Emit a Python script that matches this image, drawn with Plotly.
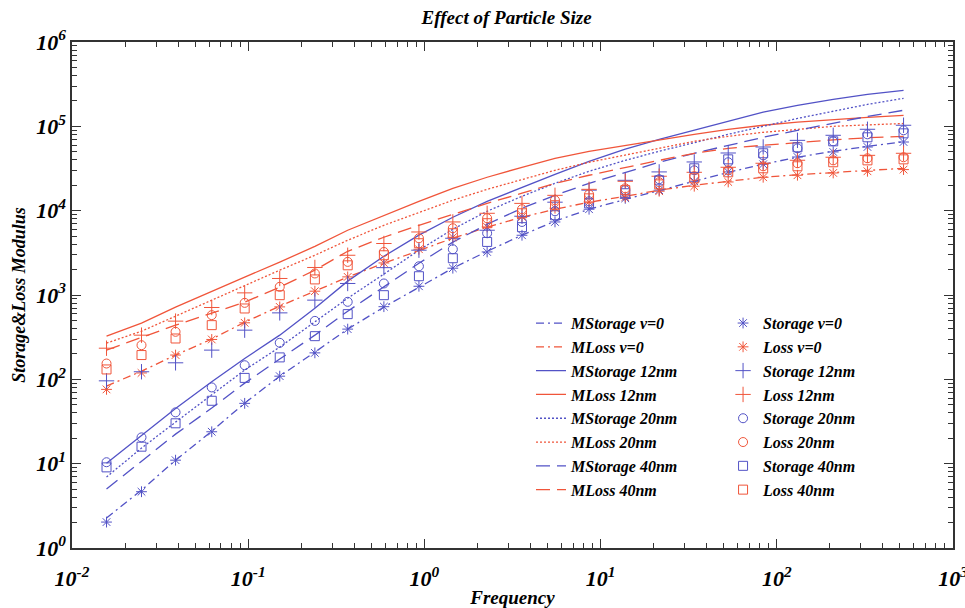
import plotly.graph_objects as go

# ---------------- data ----------------
freq = [0.0157, 0.0248, 0.0387, 0.0621, 0.0955, 0.151, 0.239, 0.367, 0.589, 0.931,
        1.45, 2.27, 3.58, 5.51, 8.60, 13.8, 21.5, 34.0, 53.0, 83.7, 131, 209, 327, 524]

# model curves
mstorage_v0 = [2.27, 4.86, 11.0, 24.3, 52.2, 109, 210, 394, 718, 1240, 2080, 3300, 5120, 7500,
               10400, 13600, 17500, 22300, 28500, 35500, 43000, 50600, 57900, 65600]
mloss_v0 = [83.2, 125, 194, 300, 476, 738, 1110, 1630, 2380, 3400, 4710, 6370, 8360, 10400,
            12600, 14800, 17500, 20000, 22300, 24900, 26700, 28500, 30100, 31800]
mstorage_12 = [10.1, 21.8, 45.2, 93.5, 177, 334, 698, 1460, 2880, 5120, 8360, 12900, 18900, 27000,
               38500, 53500, 70200, 89700, 115000, 147000, 177000, 209000, 239000, 267000]
mloss_12 = [325, 463, 718, 1110, 1630, 2450, 3780, 5860, 8830, 12900, 18400, 24900, 32700, 41800,
            50600, 59600, 68200, 80400, 92300, 103000, 112000, 121000, 128000, 135000]
mstorage_20 = [6.95, 15.3, 31.1, 65.0, 129, 241, 476, 916, 1770, 3400, 6030, 9840, 14800, 21100,
               29300, 39500, 50600, 64700, 80400, 100000, 124000, 151000, 182000, 215000]
mloss_20 = [269, 372, 561, 867, 1310, 1970, 2960, 4460, 6710, 9570, 13300, 17900, 23600, 30100,
            37500, 45300, 54900, 66400, 76200, 84900, 92300, 100000, 104000, 108000]
mstorage_40 = [5.0, 10.7, 22.4, 45.6, 90.2, 174, 334, 643, 1240, 2380, 4230, 6900, 10700, 15200,
               21100, 28500, 37500, 47900, 59600, 74100, 89700, 109000, 131000, 155000]
mloss_40 = [222, 316, 439, 609, 822, 1240, 1970, 3300, 4840, 6710, 9080, 12200, 16100, 21100,
            26300, 32700, 39500, 47900, 54900, 59600, 64700, 69200, 73100, 76200]

# measured points
storage_v0 = [2.03, 4.65, 11.0, 23.9, 51.9, 109, 206, 394, 727, 1270, 2080, 3240, 5110, 7350,
              10400, 14000, 17500, 22300, 28800, 35500, 43300, 49700, 56900, 65200]
loss_v0 = [76, 119, 194, 297, 468, 723, 1110, 1640, 2400, 3490, 4840, 6410, 8430, 10700,
           12700, 14500, 17000, 19500, 21900, 24900, 26300, 28000, 29300, 30700]
storage_12 = [96, 123, 157, 222, 383, 614, 869, 1370, 2110, 3400, 4710, 5860, 8590, 12600,
              17500, 22900, 28800, 37800, 48300, 56900, 68200, 78300, 92300, 103000]
loss_12 = [234, 334, 490, 711, 1060, 1570, 2120, 2960, 4080, 5590, 7350, 9310, 12200, 15200,
           17900, 22300, 25600, 28500, 32700, 36500, 39600, 43000, 45300, 47900]
storage_20 = [10.4, 20.5, 40.6, 80.2, 147, 271, 493, 830, 1370, 2190, 3490, 5400, 7350, 9840,
              12900, 17500, 23600, 30100, 37500, 45300, 54900, 66400, 80400, 89700]
loss_20 = [154, 254, 366, 577, 807, 1250, 1800, 2470, 3240, 4710, 6190, 8130, 10400, 13300,
           15600, 18400, 21700, 25600, 30100, 33600, 36500, 39500, 41800, 43000]
storage_40 = [9.04, 15.9, 30.1, 55.7, 104, 182, 325, 593, 995, 1670, 2730, 4260, 6370, 8830,
              12200, 16100, 22900, 31800, 40600, 47900, 56400, 66400, 74100, 82600]
loss_40 = [131, 194, 305, 439, 692, 995, 1530, 2250, 2960, 4110, 5400, 7100, 9310, 11600,
           14000, 17500, 20500, 24200, 28500, 31800, 33600, 37500, 39500, 40600]

x_major = [0.01, 0.1, 1, 10, 100, 1000]
x_labels = ["10<sup>-2</sup>", "10<sup>-1</sup>", "10<sup>0</sup>", "10<sup>1</sup>",
            "10<sup>2</sup>", "10<sup>3</sup>"]
y_major = [1, 10, 100, 1000, 10000, 100000, 1000000]
y_labels = ["10<sup>0</sup>", "10<sup>1</sup>", "10<sup>2</sup>", "10<sup>3</sup>",
            "10<sup>4</sup>", "10<sup>5</sup>", "10<sup>6</sup>"]

BLUE = "#5252c6"
RED = "#f0553a"
FONT = "Liberation Serif"

DASHDOT = "8px,4px,2px,4px"
DOT = "2px,2px"
LONGDASH = "14px,7px"

line_series = [
    ("MStorage v=0", mstorage_v0, BLUE, DASHDOT),
    ("MLoss v=0", mloss_v0, RED, DASHDOT),
    ("MStorage 12nm", mstorage_12, BLUE, "solid"),
    ("MLoss 12nm", mloss_12, RED, "solid"),
    ("MStorage 20nm", mstorage_20, BLUE, DOT),
    ("MLoss 20nm", mloss_20, RED, DOT),
    ("MStorage 40nm", mstorage_40, BLUE, LONGDASH),
    ("MLoss 40nm", mloss_40, RED, LONGDASH),
]
marker_series = [
    ("Storage v=0", storage_v0, BLUE, "asterisk-open", 9),
    ("Loss v=0", loss_v0, RED, "asterisk-open", 9),
    ("Storage 12nm", storage_12, BLUE, "cross-thin-open", 11),
    ("Loss 12nm", loss_12, RED, "cross-thin-open", 11),
    ("Storage 20nm", storage_20, BLUE, "circle-open", 9),
    ("Loss 20nm", loss_20, RED, "circle-open", 9),
    ("Storage 40nm", storage_40, BLUE, "square-open", 9),
    ("Loss 40nm", loss_40, RED, "square-open", 9),
]

fig = go.Figure()
for name, ys, color, dash in line_series:
    fig.add_trace(go.Scatter(
        x=freq, y=ys, mode="lines", name="<b><i>" + name + "</i></b>",
        line=dict(color=color, width=1.3, dash=dash), legend="legend"))
for name, ys, color, sym, size in marker_series:
    fig.add_trace(go.Scatter(
        x=freq, y=ys, mode="markers", name="<b><i>" + name + "</i></b>",
        marker=dict(symbol=sym, size=size, color=color, line=dict(color=color, width=1)),
        legend="legend2"))

minor_x = [m * 10 ** e for e in range(-2, 3) for m in range(2, 10)]
minor_y = [m * 10 ** e for e in range(0, 6) for m in range(2, 10)]

axis_common = dict(
    type="log", showline=True, linecolor="#333", linewidth=1.5, mirror="allticks",
    ticks="inside", ticklen=9, tickwidth=1.3, tickcolor="#333",
    showgrid=False, zeroline=False, automargin=False, ticklabeloverflow="allow",
    tickfont=dict(family=FONT, size=22, color="black"),
)

fig.update_layout(
    width=965, height=608,
    margin=dict(l=72, r=12, t=42, b=60),
    paper_bgcolor="white", plot_bgcolor="white",
    font=dict(family=FONT, color="black"),
    showlegend=True,
    title=dict(text="<b><i>Effect of Particle Size</i></b>", x=0.525, xanchor="center",
               y=0.972, yanchor="middle", font=dict(family=FONT, size=19, color="black")),
    xaxis=dict(axis_common, range=[-2, 3], tickmode="array", tickvals=x_major,
               ticktext=["<b><i>" + t + "</i></b>" for t in x_labels],
               ticklabelstandoff=10,
               minor=dict(ticks="inside", ticklen=5, tickwidth=1, tickcolor="#333",
                          tickmode="array", tickvals=minor_x, showgrid=False),
               title=dict(text="<b><i>Frequency</i></b>", font=dict(family=FONT, size=19),
                          standoff=6)),
    yaxis=dict(axis_common, range=[0, 6], tickmode="array", tickvals=y_major,
               ticktext=["<b><i>" + t + "</i></b>" for t in y_labels],
               minor=dict(ticks="inside", ticklen=5, tickwidth=1, tickcolor="#333",
                          tickmode="array", tickvals=minor_y, showgrid=False),
               title=dict(text="<b><i>Storage&amp;Loss Modulus</i></b>",
                          font=dict(family=FONT, size=18), standoff=6)),
    legend=dict(x=0.521, y=0.478, xanchor="left", yanchor="top", bgcolor="rgba(255,255,255,0)",
                font=dict(family=FONT, size=16, color="black"), tracegroupgap=0),
    legend2=dict(x=0.739, y=0.478, xanchor="left", yanchor="top", bgcolor="rgba(255,255,255,0)",
                 font=dict(family=FONT, size=16, color="black"), tracegroupgap=0),
)

fig.write_html("out.html")
